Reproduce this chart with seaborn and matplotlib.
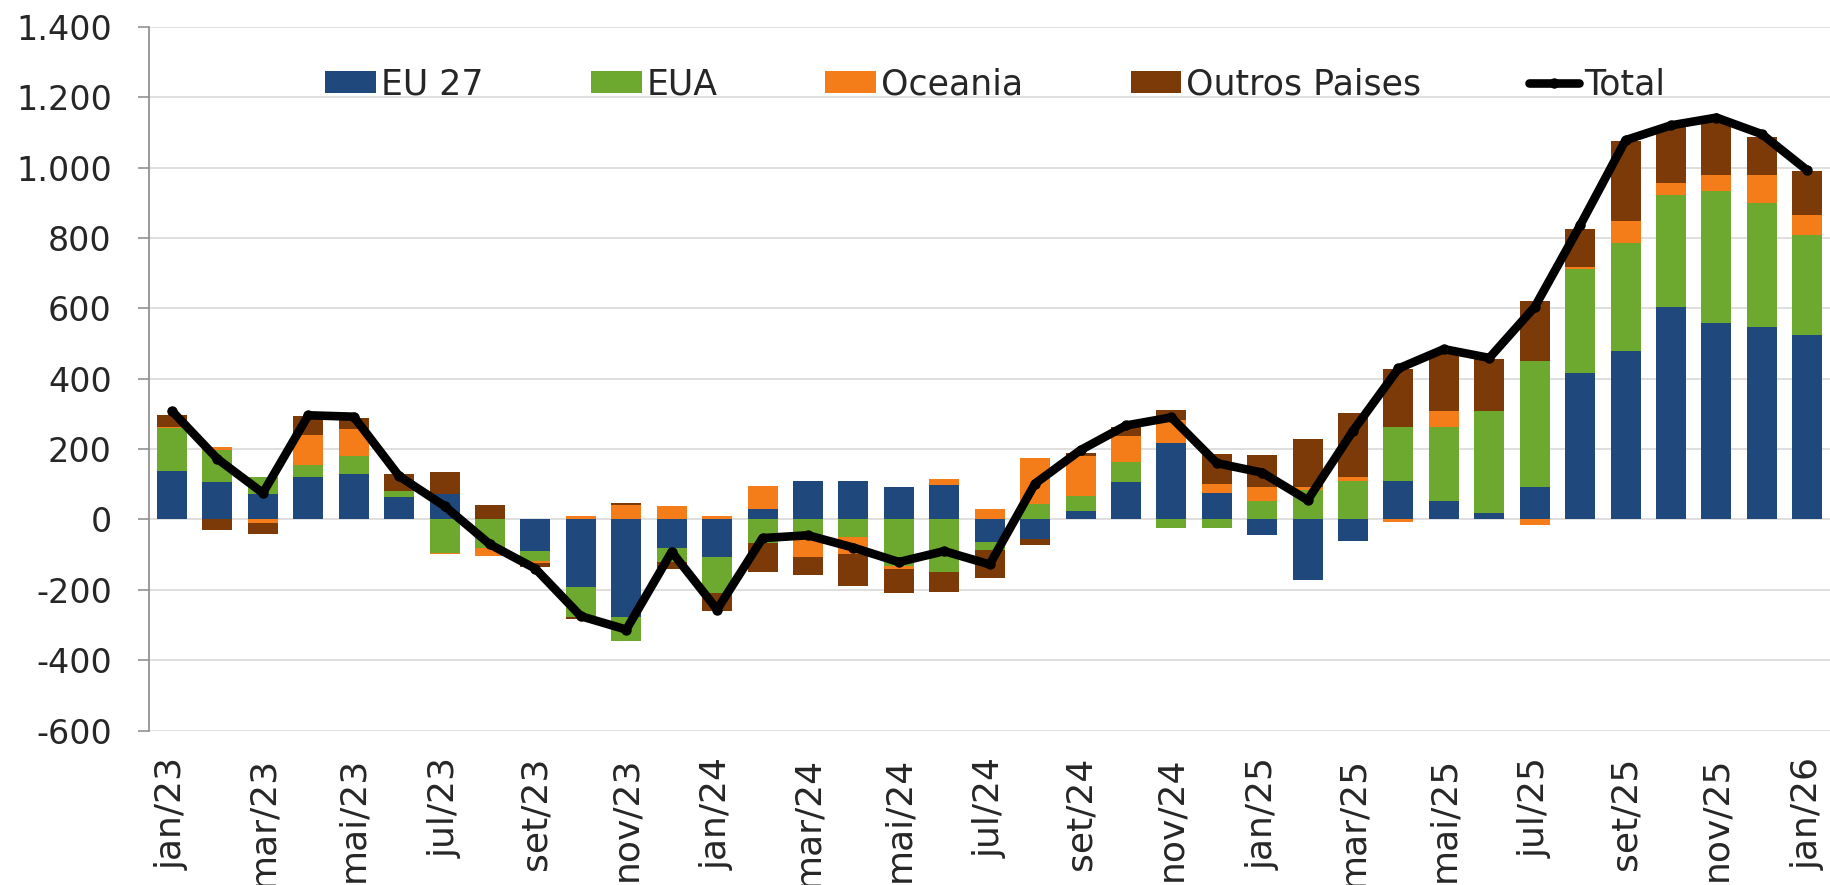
# import libraries
import numpy as np
import matplotlib
matplotlib.use("Agg")
import matplotlib.pyplot as plt
import seaborn as sns

# data
months = [
    "jan/23", "fev/23", "mar/23", "abr/23", "mai/23", "jun/23", "jul/23", "ago/23",
    "set/23", "out/23", "nov/23", "dez/23", "jan/24", "fev/24", "mar/24", "abr/24",
    "mai/24", "jun/24", "jul/24", "ago/24", "set/24", "out/24", "nov/24", "dez/24",
    "jan/25", "fev/25", "mar/25", "abr/25", "mai/25", "jun/25", "jul/25", "ago/25",
    "set/25", "out/25", "nov/25", "dez/25", "jan/26",
]

eu27 = [139, 105, 71, 122, 128, 65, 71, 0, -91, -193, -278, -80, -108, 31, 108, 108,
        91, 97, -63, -57, 23, 105, 216, 74, -45, -172, -60, 109, 52, 18, 92, 416,
        478, 603, 558, 546, 524]
eua = [120, 91, 51, 34, 51, 17, -94, -82, -28, -85, -68, -40, -102, -68, -51, -51,
       -131, -148, -23, 45, 45, 57, -23, -23, 51, 83, 109, 153, 210, 290, 358, 295,
       307, 318, 375, 353, 284]
oceania = [5, 11, -11, 85, 79, 0, -5, -23, -6, 11, 40, 37, 11, 63, -57, -46,
           -11, 17, 30, 131, 111, 74, 68, 28, 40, 9, 11, -6, 46, 0, -17, 6,
           63, 34, 45, 79, 57]
outros = [34, -31, -31, 52, 29, 46, 63, 40, -11, -6, 6, -22, -51, -80, -51, -91,
          -68, -57, -80, -17, 11, 28, 28, 85, 91, 136, 182, 165, 164, 147, 170, 108,
          227, 160, 156, 109, 125]
total = [308, 172, 75, 296, 292, 123, 38, -71, -140, -275, -313, -92, -256, -53, -45, -80,
         -121, -90, -128, 102, 197, 267, 290, 160, 133, 55, 252, 429, 484, 459, 604, 836,
         1078, 1120, 1142, 1095, 992]

series_names = ["EU 27", "EUA", "Oceania", "Outros Paises"]
series_values = [eu27, eua, oceania, outros]
series_colors = ["#1f497d", "#6da82f", "#f47c19", "#7b3a08"]

# style
sns.set_style("white")
plt.rcParams["font.family"] = ["DejaVu Sans"]

fig = plt.figure(figsize=(18.3, 8.85), dpi=100)
ax = fig.add_axes([0.0816, 0.1745, 1 - 0.0816, 0.7952])

x = np.arange(len(months))

# stacked bars, positives up and negatives down
pos_bottom = np.zeros(len(months))
neg_bottom = np.zeros(len(months))
for name, vals, col in zip(series_names, series_values, series_colors):
    v = np.array(vals, dtype=float)
    b = np.where(v >= 0, pos_bottom, neg_bottom)
    ax.bar(x, v, bottom=b, width=0.66, color=col, label=name, zorder=2,
           linewidth=0, edgecolor="none")
    pos_bottom += np.clip(v, 0, None)
    neg_bottom += np.clip(v, None, 0)

# total line
sns.lineplot(x=x, y=total, color="black", linewidth=6.2, marker="o",
             markersize=7.5, markeredgewidth=0, label="Total", ax=ax, zorder=3,
             solid_joinstyle="round", solid_capstyle="round")

# axes
ax.set_xlim(-0.5, len(months) - 0.5)
ax.set_ylim(-600, 1400)
yticks = np.arange(-600, 1401, 200)
ax.set_yticks(yticks)
ax.set_yticklabels([f"{v:,.0f}".replace(",", ".") for v in yticks], fontsize=24)
ax.set_xticks(x[::2])
ax.set_xticklabels(months[::2], rotation=90, fontsize=26, va="top", ha="center")
ax.tick_params(axis="x", length=0, pad=19)
ax.tick_params(axis="y", length=8, width=1.1, color="#898989", pad=19, left=True)

ax.grid(axis="y", color="#d9d9d9", linewidth=1.2, zorder=0)
ax.set_axisbelow(True)
for s in ["top", "right", "bottom"]:
    ax.spines[s].set_visible(False)
ax.spines["left"].set_color("#898989")
ax.spines["left"].set_linewidth(1.2)
ax.spines["left"].set_zorder(4)

ax.set_xlabel("")
ax.set_ylabel("")

# legend
handles, labels = ax.get_legend_handles_labels()
order = [labels.index(n) for n in series_names + ["Total"]]
ax.legend([handles[i] for i in order], [labels[i] for i in order],
          loc="center", bbox_to_anchor=(0.544, 0.9045), bbox_transform=fig.transFigure,
          ncol=5, frameon=False, fontsize=25, handlelength=1.45, handleheight=0.58,
          handletextpad=0.15, columnspacing=3.1, borderpad=0)

fig.savefig("out.png", dpi=100)
